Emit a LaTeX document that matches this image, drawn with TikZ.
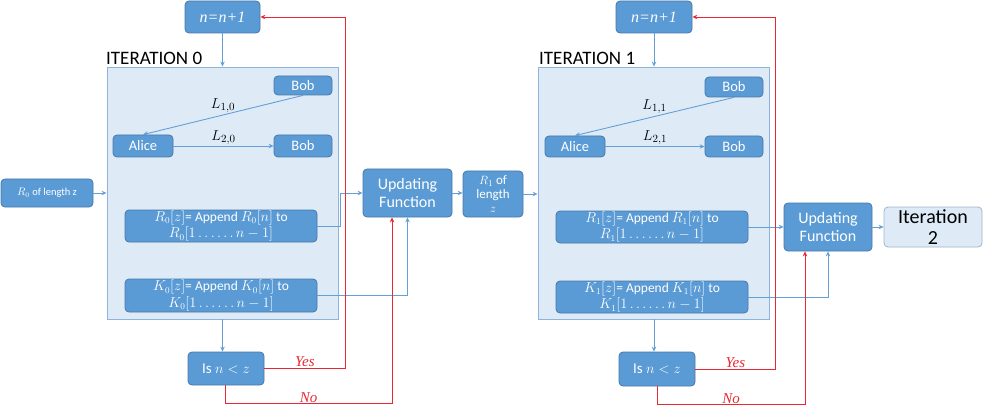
\documentclass[tikz,border=0pt]{standalone}
\usepackage{fontspec}
\setmainfont{Carlito}
\newfontfamily\serifit{Liberation Serif}[ItalicFont={Liberation Serif Italic}]
\usetikzlibrary{arrows.meta}
\definecolor{boxblue}{RGB}{91,155,213}
\definecolor{boxedge}{RGB}{70,120,170}
\definecolor{contfill}{RGB}{222,235,247}
\definecolor{contedge}{RGB}{140,180,222}
\definecolor{arrblue}{RGB}{100,160,215}
\definecolor{myred}{RGB}{232,40,50}
\definecolor{it2edge}{RGB}{160,180,205}
\tikzset{
  box/.style={draw=boxedge, fill=boxblue, rounded corners=4pt, text=white, align=center,
    inner sep=0pt, line width=0.8pt, font=\fontsize{14.5}{14.5}\selectfont},
  apbox/.style={box, font=\fontsize{13.5}{16.5}\selectfont},
  cont/.style={draw=contedge, fill=contfill, line width=0.9pt, inner sep=0pt},
  blarr/.style={draw=arrblue, line width=0.9pt, -{Stealth[length=5pt,width=4.5pt]}},
  redarr/.style={draw=myred, line width=0.9pt, -{Stealth[length=5pt,width=4.5pt]}},
  redlab/.style={text=myred, font=\serifit\itshape\fontsize{15}{15}\selectfont, inner sep=1pt},
  ttl/.style={font=\fontsize{19}{19}\selectfont, inner sep=0pt},
  llab/.style={font=\fontsize{15}{15}\selectfont, inner sep=1pt, text=black},
  inc/.style={box, font=\serifit\itshape\fontsize{16}{16}\selectfont},
}
\begin{document}
\begin{tikzpicture}[x=1pt,y=-1pt]
\useasboundingbox (0,0) rectangle (984,414);
% ---------- Iteration 0 ----------
\node[cont, minimum width=231, minimum height=252] (cont0) at (222.5,193) {};
\node[ttl, anchor=base west] (lab0) at (106,65) {ITERATION 0};
\node[inc, minimum width=75, minimum height=32] (inc0) at (222.5,17) {n=n+1};
\node[box, minimum width=58, minimum height=19] (bobA0) at (303,85.5) {Bob};
\node[box, minimum width=60, minimum height=22] (alice0) at (143,146) {Alice};
\node[box, minimum width=58, minimum height=22] (bobB0) at (303,146) {Bob};
\node[box, minimum width=92, minimum height=28, font=\fontsize{10.5}{10.5}\selectfont] (r0len) at (47,193) {$R_0$ of length z};
\node[apbox, minimum width=192, minimum height=32] (rapp0) at (221,226) {$R_0[z]$= Append $R_0[n]$ to\\$R_0[1\ldots\ldots n-1]$};
\node[apbox, minimum width=192, minimum height=33] (kapp0) at (221,295.5) {$K_0[z]$= Append $K_0[n]$ to\\$K_0[1\ldots\ldots n-1]$};
\node[box, minimum width=76, minimum height=33, font=\fontsize{15}{15}\selectfont] (isn0) at (226,368.5) {Is $n<z$};
\node[box, minimum width=89, minimum height=48, font=\fontsize{16}{18}\selectfont] (upd0) at (407.5,193) {Updating\\Function};
\node[box, minimum width=60, minimum height=46, font=\fontsize{13}{14}\selectfont] (r1len) at (493,194) {$R_1$ of\\length\\$z$};
% connectors 0
\draw[blarr] (inc0.south) -- (inc0.south |- cont0.north);
\draw[blarr] (bobA0.south) -- node[llab, midway, above=1pt] {$L_{1,0}$} (alice0.north);
\draw[blarr] (alice0.east) -- node[llab, midway, above=0pt] {$L_{2,0}$} (bobB0.west);
\draw[blarr] (r0len.east) -- (r0len.east -| cont0.west);
\draw[blarr] (rapp0.east) -- ++(23,0) |- (upd0.west);
\draw[blarr] (kapp0.east) -| (upd0.south);
\draw[blarr] (cont0.south -| inc0.south) -- (inc0.south |- isn0.north);
\draw[redarr] (isn0.east) -- node[redlab, midway, above] {Yes} ++(81,0) |- (inc0.east);
\draw[redarr] ([xshift=-1pt]isn0.south) -- ++(0,18) -| node[redlab, pos=0.25, above=-1pt] {No} ([xshift=-15.5pt]upd0.south);
\draw[blarr] (upd0.east) -- (upd0.east -| r1len.west);
% ---------- Iteration 1 ----------
\node[cont, minimum width=231, minimum height=252] (cont1) at (653.5,193) {};
\node[ttl, anchor=base west] (lab1) at (539,65) {ITERATION 1};
\node[inc, minimum width=76, minimum height=32] (inc1) at (654,17) {n=n+1};
\node[box, minimum width=58, minimum height=20] (bobA1) at (734,87) {Bob};
\node[box, minimum width=60, minimum height=21] (alice1) at (575,146.5) {Alice};
\node[box, minimum width=58, minimum height=21] (bobB1) at (734,146.5) {Bob};
\node[apbox, minimum width=192, minimum height=32] (rapp1) at (652,227) {$R_1[z]$= Append $R_1[n]$ to\\$R_1[1\ldots\ldots n-1]$};
\node[apbox, minimum width=192, minimum height=32] (kapp1) at (652,297) {$K_1[z]$= Append $K_1[n]$ to\\$K_1[1\ldots\ldots n-1]$};
\node[box, minimum width=76, minimum height=34, font=\fontsize{15}{15}\selectfont] (isn1) at (657,369) {Is $n<z$};
\node[box, minimum width=88, minimum height=48, font=\fontsize{16}{18}\selectfont] (upd1) at (828,227) {Updating\\Function};
\node[box, draw=it2edge, fill=contfill, text=black, minimum width=98, minimum height=40, font=\fontsize{20}{21}\selectfont] (it2) at (933,227) {Iteration\\2};
% connectors 1
\draw[blarr] (r1len.east) -- (r1len.east -| cont1.west);
\draw[blarr] (inc1.south) -- (inc1.south |- cont1.north);
\draw[blarr] (bobA1.south) -- node[llab, midway, above=1pt] {$L_{1,1}$} (alice1.north);
\draw[blarr] (alice1.east) -- node[llab, midway, above=0pt] {$L_{2,1}$} (bobB1.west);
\draw[blarr] (rapp1.east) -- (upd1.west);
\draw[blarr] (kapp1.east) -| (upd1.south);
\draw[blarr] (cont1.south -| inc1.south) -- (inc1.south |- isn1.north);
\draw[redarr] (isn1.east) -- node[redlab, midway, above] {Yes} ++(80,0) |- (inc1.east);
\draw[redarr] (isn1.south) -- ++(0,18) -| node[redlab, pos=0.25, above=-1pt] {No} ([xshift=-23pt]upd1.south);
\draw[blarr] (upd1.east) -- (it2.west);
\end{tikzpicture}
\end{document}
